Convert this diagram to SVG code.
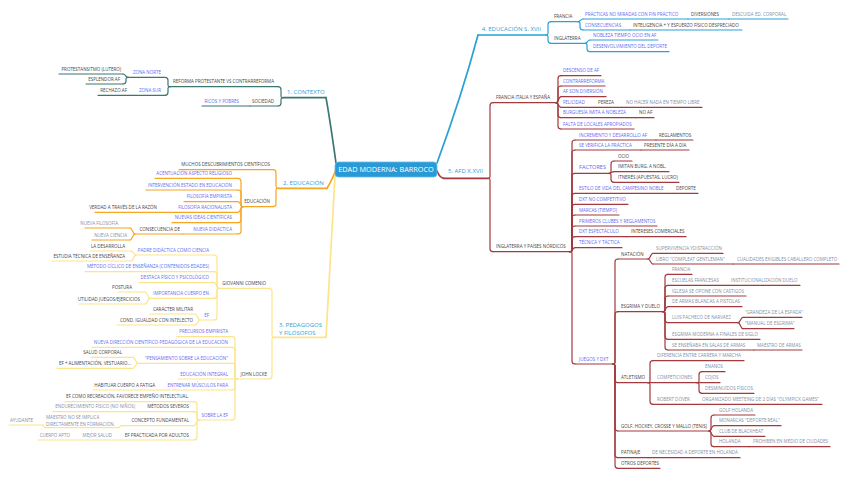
<svg xmlns="http://www.w3.org/2000/svg" width="848" height="478" viewBox="0 0 848 478">
<style>
.l{fill:none;stroke-width:1.2;stroke-linecap:round;stroke-linejoin:round}
.w{stroke-width:1.7}
.t{stroke:#3b7772}.o{stroke:#f6a623}.y{stroke:#fde48a}.b{stroke:#2aa0d7}.r{stroke:#a33a3d}
text{font-family:"Open Sans","Liberation Sans",sans-serif;font-size:4.5px;stroke:none}
.k{fill:#444}.p{fill:#5f69f2}.g{fill:#7f90a6}.e{text-anchor:end}
.ti{font-size:6px;fill:#2a9fd8}
</style>
<rect width="848" height="478" fill="#ffffff"/>
<g id="connectors">
<g class="t">
<path class="l w" d="M336 163Q330 120 326 97.7"/>
<path class="l" d="M283 97.7Q281 97.7 281 96.2V89.7Q281 86.7 278 86.7"/>
<path class="l" d="M283 97.7Q281 97.7 281 99.2V103Q281 106 278 106"/>
<path class="l" d="M170 86.7Q168 86.7 168 85.2V80.3Q168 77.3 165 77.3"/>
<path class="l" d="M170 86.7Q168 86.7 168 88.2V92.3Q168 95.3 165 95.3"/>
<path class="l" d="M128 77.3C125.5 77.3 125.5 74 123 74"/>
<path class="l" d="M128 77.3Q126 77.3 126 78.8V81Q126 84 123 84"/>
</g>
<g class="o">
<path class="l w" d="M336 170Q331 182 327 188.3"/>
<path class="l" d="M278 188.3Q276 188.3 276 186.8V172.7Q276 169.7 273 169.7"/>
<path class="l" d="M278 188.3Q276 188.3 276 189.8V203.7Q276 206.7 273 206.7"/>
<path class="l" d="M243 206.7Q241 206.7 241 205.2V181.3Q241 178.3 238 178.3"/>
<path class="l" d="M243 206.7Q241 206.7 241 205.2V193Q241 190 238 190"/>
<path class="l" d="M243 206.7C240.5 206.7 240.5 201.7 238 201.7"/>
<path class="l" d="M243 206.7C240.5 206.7 240.5 212.3 238 212.3"/>
<path class="l" d="M243 206.7Q241 206.7 241 208.2V219.7Q241 222.7 238 222.7"/>
<path class="l" d="M243 206.7Q241 206.7 241 208.2V231Q241 234 238 234"/>
<path class="l" d="M135 234C132.5 234 132.5 228 130 228"/>
<path class="l" d="M135 234C132.5 234 132.5 240 130 240"/>
</g>
<g class="y">
<path class="l w" d="M335 176Q330 260 326 337.3"/>
<path class="l" d="M274 337.3Q272 337.3 272 335.8V291.3Q272 288.3 269 288.3"/>
<path class="l" d="M274 337.3Q272 337.3 272 338.8V376Q272 379 269 379"/>
<path class="l" d="M219 288.3Q217 288.3 217 286.8V258Q217 255 214 255"/>
<path class="l" d="M219 288.3Q217 288.3 217 286.8V274.7Q217 271.7 214 271.7"/>
<path class="l" d="M219 288.3C216.5 288.3 216.5 282.7 214 282.7"/>
<path class="l" d="M219 288.3Q217 288.3 217 289.8V295.3Q217 298.3 214 298.3"/>
<path class="l" d="M219 288.3Q217 288.3 217 289.8V317Q217 320 214 320"/>
<path class="l" d="M136 255C133.5 255 133.5 251 131 251"/>
<path class="l" d="M136 255C133.5 255 133.5 261 131 261"/>
<path class="l" d="M150 298.3C147.5 298.3 147.5 292 145 292"/>
<path class="l" d="M150 298.3C147.5 298.3 147.5 304 145 304"/>
<path class="l" d="M200 320C197.5 320 197.5 314 195 314"/>
<path class="l" d="M200 320C197.5 320 197.5 325 195 325"/>
<path class="l" d="M237 379Q235 379 235 377.5V339.7Q235 336.7 232 336.7"/>
<path class="l" d="M237 379Q235 379 235 377.5V350.3Q235 347.3 232 347.3"/>
<path class="l" d="M237 379Q235 379 235 377.5V366.3Q235 363.3 232 363.3"/>
<path class="l" d="M237 379Q235 379 235 380.5V387Q235 390 232 390"/>
<path class="l" d="M237 379Q235 379 235 380.5V417Q235 420 232 420"/>
<path class="l" d="M138 363.3C135.5 363.3 135.5 357.3 133 357.3"/>
<path class="l" d="M138 363.3C135.5 363.3 135.5 368.3 133 368.3"/>
<path class="l" d="M199 420Q197 420 197 418.5V404.7Q197 401.7 194 401.7"/>
<path class="l" d="M199 420Q197 420 197 418.5V414.7Q197 411.7 194 411.7"/>
<path class="l" d="M199 420C196.5 420 196.5 425.7 194 425.7"/>
<path class="l" d="M199 420Q197 420 197 421.5V437Q197 440 194 440"/>
<path class="l" d="M122 425.7C120 425.7 120 427.7 118 427.7"/>
<path class="l" d="M45 427.7C44 427.7 44 425 43 425"/>
</g>
<g class="b">
<path class="l w" d="M437 163Q462 95 478 35"/>
<path class="l" d="M546 35Q548 35 548 33.5V24.7Q548 21.7 551 21.7"/>
<path class="l" d="M546 35Q548 35 548 36.5V40.3Q548 43.3 551 43.3"/>
<path class="l" d="M578 21.7C580.5 21.7 580.5 19 583 19"/>
<path class="l" d="M578 21.7Q580 21.7 580 23.2V27Q580 30 583 30"/>
<path class="l" d="M585 43.3C587.5 43.3 587.5 40 590 40"/>
<path class="l" d="M585 43.3Q587 43.3 587 44.8V48.7Q587 51.7 590 51.7"/>
</g>
<g class="r">
<path class="l w" d="M437 171Q440 178.3 444 178.3"/>
<path class="l" d="M488 178.3Q490 178.3 490 176.8V105.7Q490 102.7 493 102.7"/>
<path class="l" d="M488 178.3Q490 178.3 490 179.8V248.7Q490 251.7 493 251.7"/>
<path class="l" d="M556 102.7Q558 102.7 558 101.2V78.7Q558 75.7 561 75.7"/>
<path class="l" d="M556 102.7Q558 102.7 558 101.2V89Q558 86 561 86"/>
<path class="l" d="M556 102.7C558.5 102.7 558.5 96.7 561 96.7"/>
<path class="l" d="M556 102.7C558.5 102.7 558.5 107.3 561 107.3"/>
<path class="l" d="M556 102.7Q558 102.7 558 104.2V114.7Q558 117.7 561 117.7"/>
<path class="l" d="M556 102.7Q558 102.7 558 104.2V126Q558 129 561 129"/>
<path class="l" d="M570 251.7Q572 251.7 572 250.2V143Q572 140 575 140"/>
<path class="l" d="M570 251.7Q572 251.7 572 250.2V153Q572 150 575 150"/>
<path class="l" d="M570 251.7Q572 251.7 572 250.2V176.3Q572 173.3 575 173.3"/>
<path class="l" d="M570 251.7Q572 251.7 572 250.2V196.3Q572 193.3 575 193.3"/>
<path class="l" d="M570 251.7Q572 251.7 572 250.2V207.3Q572 204.3 575 204.3"/>
<path class="l" d="M570 251.7Q572 251.7 572 250.2V218Q572 215 575 215"/>
<path class="l" d="M570 251.7Q572 251.7 572 250.2V229Q572 226 575 226"/>
<path class="l" d="M570 251.7Q572 251.7 572 250.2V239.7Q572 236.7 575 236.7"/>
<path class="l" d="M570 251.7C572.5 251.7 572.5 247.7 575 247.7"/>
<path class="l" d="M570 251.7Q572 251.7 572 253.2V361Q572 364 575 364"/>
<path class="l" d="M609 173.3Q611 173.3 611 171.8V164Q611 161 614 161"/>
<path class="l" d="M609 173.3C611.5 173.3 611.5 171.7 614 171.7"/>
<path class="l" d="M609 173.3Q611 173.3 611 174.8V179.3Q611 182.3 614 182.3"/>
<path class="l" d="M613 364Q615 364 615 362.5V262Q615 259 618 259"/>
<path class="l" d="M613 364Q615 364 615 362.5V314.7Q615 311.7 618 311.7"/>
<path class="l" d="M613 364Q615 364 615 365.5V379.7Q615 382.7 618 382.7"/>
<path class="l" d="M613 364Q615 364 615 365.5V428Q615 431 618 431"/>
<path class="l" d="M613 364Q615 364 615 365.5V454.7Q615 457.7 618 457.7"/>
<path class="l" d="M613 364Q615 364 615 365.5V465.3Q615 468.3 618 468.3"/>
<path class="l" d="M648 259C650.5 259 650.5 253.3 653 253.3"/>
<path class="l" d="M648 259C650.5 259 650.5 264 653 264"/>
<path class="l" d="M663 311.7Q665 311.7 665 310.2V277.3Q665 274.3 668 274.3"/>
<path class="l" d="M663 311.7Q665 311.7 665 310.2V288.3Q665 285.3 668 285.3"/>
<path class="l" d="M663 311.7Q665 311.7 665 310.2V299Q665 296 668 296"/>
<path class="l" d="M663 311.7C665.5 311.7 665.5 306.7 668 306.7"/>
<path class="l" d="M663 311.7Q665 311.7 665 313.2V319.7Q665 322.7 668 322.7"/>
<path class="l" d="M663 311.7Q665 311.7 665 313.2V336.3Q665 339.3 668 339.3"/>
<path class="l" d="M663 311.7Q665 311.7 665 313.2V347Q665 350 668 350"/>
<path class="l" d="M738 322.7C740.5 322.7 740.5 317.3 743 317.3"/>
<path class="l" d="M738 322.7C740.5 322.7 740.5 328.7 743 328.7"/>
<path class="l" d="M648 382.7Q650 382.7 650 381.2V363.7Q650 360.7 653 360.7"/>
<path class="l" d="M648 382.7Q650 382.7 650 384.2V401.3Q650 404.3 653 404.3"/>
<path class="l" d="M697 382.7Q699 382.7 699 381.2V374.7Q699 371.7 702 371.7"/>
<path class="l" d="M697 382.7Q699 382.7 699 384.2V390.3Q699 393.3 702 393.3"/>
<path class="l" d="M709 431Q711 431 711 429.5V418Q711 415 714 415"/>
<path class="l" d="M709 431C711.5 431 711.5 425.7 714 425.7"/>
<path class="l" d="M709 431C711.5 431 711.5 436.3 714 436.3"/>
<path class="l" d="M709 431Q711 431 711 432.5V443.7Q711 446.7 714 446.7"/>
</g>
</g>
<g id="nodes">
<g id="n0"><rect x="335" y="162" width="102" height="15" rx="3.5" fill="#2a9ad6" stroke="#62bce9" stroke-width="0.8"/><text x="386" y="172.4" text-anchor="middle" style="font-size:7.3px;fill:#ffffff">EDAD MODERNA: BARROCO</text></g>
<g class="t">
<g id="n1"><path class="l w" d="M283 97.7H326"/><text class="ti" x="287" y="93.6">1. CONTEXTO</text></g>
<g id="n1-1"><path class="l" d="M170 86.7H278"/><text class="k e" x="274" y="83.4">REFORMA PROTESTANTE VS CONTRARREFORMA</text></g>
<g id="n1-2"><path class="l" d="M250 106H278"/><text class="k e" x="274" y="102.7">SOCIEDAD</text></g>
<g id="n1-2-1"><path class="l" d="M202 106H250"/><text class="p e" x="239" y="102.7">RICOS Y POBRES</text></g>
<g id="n1-1-1"><path class="l" d="M128 77.3H165"/><text class="p e" x="161" y="74">ZONA NORTE</text></g>
<g id="n1-1-2"><path class="l" d="M130 95.3H165"/><text class="p e" x="161" y="92">ZONA SUR</text></g>
<g id="n1-1-2-1"><path class="l" d="M98 95.3H130"/><text class="k e" x="127" y="92">RECHAZO AF</text></g>
<g id="n1-1-1-1"><path class="l" d="M59 74H123"/><text class="k e" x="121" y="70.7">PROTESTANSITMO (LUTERO)</text></g>
<g id="n1-1-1-2"><path class="l" d="M86 84H123"/><text class="k e" x="120" y="80.7">ESPLENDOR AF</text></g>
</g>
<g class="o">
<g id="n2"><path class="l w" d="M278 188.3H327"/><text class="ti" x="283" y="184.9">2. EDUCACIÓN</text></g>
<g id="n2-1"><path class="l" d="M179 169.7H273"/><text class="k e" x="270" y="166.4">MUCHOS DESCUBRIMIENTOS CIENTÍFICOS</text></g>
<g id="n2-2"><path class="l" d="M243 206.7H273"/><text class="k e" x="270" y="203.4">EDUCACIÓN</text></g>
<g id="n2-2-1"><path class="l" d="M155 178.3H238"/><text class="p e" x="232" y="175">ACENTUACIÓN ASPECTO RELIGIOSO</text></g>
<g id="n2-2-2"><path class="l" d="M146 190H238"/><text class="p e" x="232" y="186.7">INTERVENCIÓN ESTADO EN EDUCACIÓN</text></g>
<g id="n2-2-3"><path class="l" d="M184 201.7H238"/><text class="p e" x="232" y="198.4">FILOSOFÍA EMPIRISTA</text></g>
<g id="n2-2-4"><path class="l" d="M176 212.3H238"/><text class="p e" x="232" y="209">FILOSOFÍA RACIONALISTA</text></g>
<g id="n2-2-4-1"><path class="l" d="M95 212.3H176"/><text class="k e" x="157" y="209">VERDAD A TRAVÉS DE LA RAZÓN</text></g>
<g id="n2-2-5"><path class="l" d="M172 222.7H238"/><text class="p e" x="232" y="219.4">NUEVAS IDEAS CIENTÍFICAS</text></g>
<g id="n2-2-6"><path class="l" d="M183 234H238"/><text class="p e" x="232" y="230.7">NUEVA DIDÁCTICA</text></g>
<g id="n2-2-6-1"><path class="l" d="M135 234H183"/><text class="k e" x="180" y="230.7">CONSECUENCIA DE</text></g>
<g id="n2-2-6-1-1"><path class="l" d="M85 228H130"/><text class="g e" x="118" y="224.7">NUEVA FILOSOFÍA</text></g>
<g id="n2-2-6-1-2"><path class="l" d="M92 240H130"/><text class="g e" x="127" y="236.7">NUEVA CIENCIA</text></g>
</g>
<g class="y">
<g id="n3"><path class="l w" d="M274 337.3H326"/><text class="ti" x="279" y="327.4">3. PEDAGOGOS</text><text class="ti" x="279" y="334.7">Y FILÓSOFOS</text></g>
<g id="n3-1"><path class="l" d="M219 288.3H269"/><text class="k e" x="266" y="285">GIOVANNI COMENIO</text></g>
<g id="n3-2"><path class="l" d="M237 379H269"/><text class="k e" x="267" y="375.7">JOHN LOCKE</text></g>
<g id="n3-1-1"><path class="l" d="M136 255H214"/><text class="p e" x="209" y="251.7">PADRE DIDÁCTICA COMO CIENCIA</text></g>
<g id="n3-1-1-1"><path class="l" d="M90 251H131"/><text class="k e" x="125" y="247.7">LA DESARROLLA</text></g>
<g id="n3-1-1-2"><path class="l" d="M52 261H131"/><text class="k e" x="125" y="257.7">ESTUDIA TÉCNICA DE ENSEÑANZA</text></g>
<g id="n3-1-2"><path class="l" d="M85 271.7H214"/><text class="p e" x="209" y="268.4">MÉTODO CÍCLICO DE ENSEÑANZA (CONTENIDOS-EDADES)</text></g>
<g id="n3-1-3"><path class="l" d="M139 282.7H214"/><text class="p e" x="209" y="279.4">DESTACA FÍSICO Y PSICOLÓGICO</text></g>
<g id="n3-1-4"><path class="l" d="M150 298.3H214"/><text class="p e" x="209" y="295">IMPORTANCIA CUERPO EN</text></g>
<g id="n3-1-4-1"><path class="l" d="M118 292H145"/><text class="k e" x="132" y="288.7">POSTURA</text></g>
<g id="n3-1-4-2"><path class="l" d="M79 304H145"/><text class="k e" x="140" y="300.7">UTILIDAD JUEGOS/EJERCICIOS</text></g>
<g id="n3-1-5"><path class="l" d="M200 320H214"/><text class="p e" x="209" y="316.7">EF</text></g>
<g id="n3-1-5-1"><path class="l" d="M150 314H195"/><text class="k e" x="193" y="310.7">CARÁCTER MILITAR</text></g>
<g id="n3-1-5-2"><path class="l" d="M117 325H195"/><text class="k e" x="193" y="321.7">COND. IGUALDAD CON INTELECTO</text></g>
<g id="n3-2-1"><path class="l" d="M177 336.7H232"/><text class="p e" x="228" y="333.4">PRECURSOS EMPIRISTA</text></g>
<g id="n3-2-2"><path class="l" d="M92 347.3H232"/><text class="p e" x="228" y="344">NUEVA DIRECCIÓN CIENTÍFICO-PEDAGÓGICA DE LA EDUCACIÓN</text></g>
<g id="n3-2-3"><path class="l" d="M138 363.3H232"/><text class="p e" x="228" y="360">"PENSAMIENTO SOBRE LA EDUCACIÓN"</text></g>
<g id="n3-2-3-1"><path class="l" d="M91 357.3H133"/><text class="k e" x="122" y="354">SALUD CORPORAL</text></g>
<g id="n3-2-3-2"><path class="l" d="M57 368.3H133"/><text class="k e" x="131" y="365">EF + ALIMENTACIÓN, VESTUARIO...</text></g>
<g id="n3-2-4"><path class="l" d="M178 379H237"/><text class="p e" x="228" y="375.7">EDUCACIÓN INTEGRAL</text></g>
<g id="n3-2-5"><path class="l" d="M157 390H232"/><text class="p e" x="228" y="386.7">ENTRENAR MÚSCULOS PARA</text></g>
<g id="n3-2-5-1"><path class="l" d="M93 390H157"/><text class="k e" x="155" y="386.7">HABITUAR CUERPO A FATIGA</text></g>
<g id="n3-2-6"><path class="l" d="M199 420H232"/><text class="p e" x="228" y="416.7">SOBRE LA EF</text></g>
<g id="n3-2-6-1"><path class="l" d="M65 401.7H194"/><text class="k e" x="189" y="398.4">EF COMO RECREACIÓN, FAVORECE EMPEÑO INTELECTUAL.</text></g>
<g id="n3-2-6-2"><path class="l" d="M137 411.7H194"/><text class="k e" x="189" y="408.4">MÉTODOS SEVEROS</text></g>
<g id="n3-2-6-2-1"><path class="l" d="M53 411.7H137"/><text class="g e" x="135" y="408.4">ENDURECIMIENTO FÍSICO (NO NIÑOS)</text></g>
<g id="n3-2-6-3"><path class="l" d="M122 425.7H194"/><text class="k e" x="189" y="422.4">CONCEPTO FUNDAMENTAL</text></g>
<g id="n3-2-6-3-1"><path class="l" d="M45 427.7H118"/><text class="g" x="46" y="419.3">MAESTRO NO SE IMPLICA</text><text class="g" x="46" y="425.9">DIRECTAMENTE EN FORMACIÓN.</text></g>
<g id="n3-2-6-3-1-1"><path class="l" d="M9 425H43"/><text class="g e" x="33" y="421.7">AYUDANTE</text></g>
<g id="n3-2-6-4"><path class="l" d="M120 440H194"/><text class="k e" x="189" y="436.7">EF PRACTICADA POR ADULTOS</text></g>
<g id="n3-2-6-4-1"><path class="l" d="M80 440H120"/><text class="g e" x="112" y="436.7">MEJOR SALUD</text></g>
<g id="n3-2-6-4-1-1"><path class="l" d="M38 440H80"/><text class="g e" x="70" y="436.7">CUERPO APTO</text></g>
</g>
<g class="b">
<g id="n4"><path class="l w" d="M478 35H546"/><text class="ti" x="481.7" y="31.4">4. EDUCACIÓN S. XVII</text></g>
<g id="n4-1"><path class="l" d="M551 21.7H578"/><text class="k" x="554" y="18.4">FRANCIA</text></g>
<g id="n4-2"><path class="l" d="M551 43.3H585"/><text class="k" x="554" y="40">INGLATERRA</text></g>
<g id="n4-1-1"><path class="l" d="M583 19H688"/><text class="p" x="585" y="15.7">PRÁCTICAS NO MIRADAS CON FIN PRÁCTICO</text></g>
<g id="n4-1-1-1"><path class="l" d="M688 19H729"/><text class="k" x="691" y="15.7">DIVERSIONES</text></g>
<g id="n4-1-1-1-1"><path class="l" d="M729 19H788"/><text class="g" x="732" y="15.7">DESCUIDA ED. CORPORAL</text></g>
<g id="n4-1-2"><path class="l" d="M583 30H630"/><text class="p" x="585" y="26.7">CONSECUENCIAS</text></g>
<g id="n4-1-2-1"><path class="l" d="M630 30H742"/><text class="k" x="633" y="26.7">INTELIGENCIA + Y ESFUERZO FÍSICO DESPRECIADO</text></g>
<g id="n4-2-1"><path class="l" d="M590 40H658"/><text class="p" x="593" y="36.7">NOBLEZA TIEMPO OCIO EN AF</text></g>
<g id="n4-2-2"><path class="l" d="M590 51.7H669"/><text class="p" x="593" y="48.4">DESENVOLVIMIENTO DEL DEPORTE</text></g>
</g>
<g class="r">
<g id="n5"><path class="l w" d="M444 178.3H488"/><text class="ti" x="448" y="173">5. AFD X.XVII</text></g>
<g id="n5-1"><path class="l" d="M493 102.7H556"/><text class="k" x="496" y="99.4">FRANCIA ITALIA Y ESPAÑA</text></g>
<g id="n5-2"><path class="l" d="M493 251.7H570"/><text class="k" x="496" y="248.4">INGLATERRA Y PAÍSES NÓRDICOS</text></g>
<g id="n5-1-1"><path class="l" d="M561 75.7H601"/><text class="p" x="563" y="72.4">DESCENSO DE AF</text></g>
<g id="n5-1-2"><path class="l" d="M561 86H605"/><text class="p" x="563" y="82.7">CONTRARREFORMA</text></g>
<g id="n5-1-3"><path class="l" d="M561 96.7H606"/><text class="p" x="563" y="93.4">AF SON DIVERSIÓN</text></g>
<g id="n5-1-4"><path class="l" d="M561 107.3H594"/><text class="p" x="563" y="104">FELICIDAD</text></g>
<g id="n5-1-4-1"><path class="l" d="M594 107.3H622"/><text class="k" x="598" y="104">PEREZA</text></g>
<g id="n5-1-4-1-1"><path class="l" d="M622 107.3H702"/><text class="g" x="626" y="104">NO HACER NADA EN TIEMPO LIBRE</text></g>
<g id="n5-1-5"><path class="l" d="M561 117.7H636"/><text class="p" x="563" y="114.4">BURGUESÍA IMITA A NOBLEZA</text></g>
<g id="n5-1-5-1"><path class="l" d="M636 117.7H654"/><text class="k" x="639" y="114.4">NO AF</text></g>
<g id="n5-1-6"><path class="l" d="M561 129H634"/><text class="p" x="563" y="125.7">FALTA DE LOCALES APROPIADOS</text></g>
<g id="n5-2-1"><path class="l" d="M575 140H656"/><text class="p" x="579" y="136.7">INCREMENTO Y DESARROLLO AF</text></g>
<g id="n5-2-1-1"><path class="l" d="M656 140H693"/><text class="k" x="659" y="136.7">REGLAMENTOS</text></g>
<g id="n5-2-2"><path class="l" d="M575 150H641"/><text class="p" x="579" y="146.7">SE VERIFICA LA PRÁCTICA</text></g>
<g id="n5-2-2-1"><path class="l" d="M641 150H689"/><text class="k" x="644" y="146.7">PRESENTE DÍA A DÍA</text></g>
<g id="n5-2-3"><path class="l" d="M575 173.3H609"/><text class="p" x="579" y="168.6" style="font-size:5.6px">FACTORES</text></g>
<g id="n5-2-3-1"><path class="l" d="M614 161H632"/><text class="k" x="618" y="157.7">OCIO</text></g>
<g id="n5-2-3-2"><path class="l" d="M614 171.7H669"/><text class="k" x="618" y="168.4">IMITAN BURG. A NOBL.</text></g>
<g id="n5-2-3-3"><path class="l" d="M614 182.3H679"/><text class="k" x="618" y="179">ITNERÉS (APUESTAS, LUCRO)</text></g>
<g id="n5-2-4"><path class="l" d="M575 193.3H673"/><text class="p" x="579" y="190">ESTILO DE VIDA DEL CAMPESINO NOBLE</text></g>
<g id="n5-2-4-1"><path class="l" d="M673 193.3H698"/><text class="k" x="676" y="190">DEPORTE</text></g>
<g id="n5-2-5"><path class="l" d="M575 204.3H628"/><text class="p" x="579" y="201">DXT NO COMPETITIVO</text></g>
<g id="n5-2-6"><path class="l" d="M575 215H619"/><text class="p" x="579" y="211.7">MARCAS (TIEMPO)</text></g>
<g id="n5-2-7"><path class="l" d="M575 226H657"/><text class="p" x="579" y="222.7">PRIMEROS CLUBES Y REGLAMENTOS</text></g>
<g id="n5-2-8"><path class="l" d="M575 236.7H627"/><text class="p" x="579" y="233.4">DXT ESPECTÁCULO</text></g>
<g id="n5-2-8-1"><path class="l" d="M627 236.7H686"/><text class="k" x="631" y="233.4">INTERESES COMERCIALES</text></g>
<g id="n5-2-9"><path class="l" d="M575 247.7H622"/><text class="p" x="579" y="244.4">TÉCNICA Y TÁCTICA</text></g>
<g id="n5-2-10"><path class="l" d="M575 364H613"/><text class="p" x="579" y="360.7">JUEGOS Y DXT</text></g>
<g id="n5-2-10-1"><path class="l" d="M618 259H648"/><text class="k" x="621" y="255.7">NATACIÓN</text></g>
<g id="n5-2-10-1-1"><path class="l" d="M653 253.3H723"/><text class="g" x="656" y="250">SUPERVIVENCIA YDISTRACCIÓN</text></g>
<g id="n5-2-10-1-2"><path class="l" d="M653 264H733"/><text class="g" x="656" y="260.7">LIBRO "COMPLEAT GENTLEMAN"</text></g>
<g id="n5-2-10-1-2-1"><path class="l" d="M733 264H839"/><text class="g" x="737" y="260.7">CUALIDADES EXIGIBLES CABALLERO COMPLETO</text></g>
<g id="n5-2-10-2"><path class="l" d="M618 311.7H663"/><text class="k" x="621" y="308.4">ESGRIMA Y DUELO</text></g>
<g id="n5-2-10-2-1"><path class="l" d="M668 274.3H692"/><text class="g" x="672" y="271">FRANCIA</text></g>
<g id="n5-2-10-2-2"><path class="l" d="M668 285.3H728"/><text class="g" x="672" y="282">ESCUELAS FRANCESAS</text></g>
<g id="n5-2-10-2-2-1"><path class="l" d="M728 285.3H800"/><text class="g" x="731" y="282">INSTITUCIONALIZACIÓN DUELO</text></g>
<g id="n5-2-10-2-3"><path class="l" d="M668 296H746"/><text class="g" x="672" y="292.7">IGLESIA SE OPONE CON CASTIGOS</text></g>
<g id="n5-2-10-2-4"><path class="l" d="M668 306.7H742"/><text class="g" x="672" y="303.4">DE ARMAS BLANCAS A PISTOLAS</text></g>
<g id="n5-2-10-2-5"><path class="l" d="M668 322.7H738"/><text class="g" x="672" y="319.4">LUIS PACHECO DE NARVÁEZ</text></g>
<g id="n5-2-10-2-5-1"><path class="l" d="M743 317.3H802"/><text class="g" x="745" y="314">"GRANDEZA DE LA ESPADA"</text></g>
<g id="n5-2-10-2-5-2"><path class="l" d="M743 328.7H794"/><text class="g" x="745" y="325.4">"MANUAL DE ESGRIMA"</text></g>
<g id="n5-2-10-2-6"><path class="l" d="M668 339.3H760"/><text class="g" x="672" y="336">ESGRIMA MODERNA A FINALES DE SIGLO</text></g>
<g id="n5-2-10-2-7"><path class="l" d="M668 350H754"/><text class="g" x="672" y="346.7">SE ENSEÑABA EN SALAS DE ARMAS</text></g>
<g id="n5-2-10-2-7-1"><path class="l" d="M754 350H802"/><text class="g" x="757" y="346.7">MAESTRO DE ARMAS</text></g>
<g id="n5-2-10-3"><path class="l" d="M618 382.7H648"/><text class="k" x="621" y="379.4">ATLETISMO</text></g>
<g id="n5-2-10-3-1"><path class="l" d="M653 360.7H744"/><text class="g" x="657" y="357.4">DIFERENCIA ENTRE CARRERA Y MARCHA</text></g>
<g id="n5-2-10-3-2"><path class="l" d="M648 382.7H697"/><text class="g" x="657" y="379.4">COMPETICIONES</text></g>
<g id="n5-2-10-3-2-1"><path class="l" d="M702 371.7H725"/><text class="g" x="705" y="368.4">ENANOS</text></g>
<g id="n5-2-10-3-2-2"><path class="l" d="M697 382.7H720"/><text class="g" x="705" y="379.4">COJOS</text></g>
<g id="n5-2-10-3-2-3"><path class="l" d="M702 393.3H754"/><text class="g" x="705" y="390">DESMINUÍDOS FÍSICOS</text></g>
<g id="n5-2-10-3-3"><path class="l" d="M653 404.3H699"/><text class="g" x="657" y="401">ROBERT DOVER</text></g>
<g id="n5-2-10-3-3-1"><path class="l" d="M699 404.3H822"/><text class="g" x="702" y="401">ORGANIZADO MEETEING DE 2 DÍAS "OLYMPICK GAMES"</text></g>
<g id="n5-2-10-4"><path class="l" d="M618 431H709"/><text class="k" x="621" y="427.7">GOLF, HOCKEY, CROSSE Y MALLO (TENIS)</text></g>
<g id="n5-2-10-4-1"><path class="l" d="M714 415H755"/><text class="g" x="719" y="411.7">GOLF HOLANDA</text></g>
<g id="n5-2-10-4-2"><path class="l" d="M714 425.7H781"/><text class="g" x="719" y="422.4">MONARCAS "DEPORTE REAL"</text></g>
<g id="n5-2-10-4-3"><path class="l" d="M714 436.3H765"/><text class="g" x="719" y="433">CLUB DE BLACKHEAT</text></g>
<g id="n5-2-10-4-4"><path class="l" d="M714 446.7H749"/><text class="g" x="719" y="443.4">HOLANDA</text></g>
<g id="n5-2-10-4-4-1"><path class="l" d="M749 446.7H830"/><text class="g" x="753" y="443.4">PROHIBEN EN MEDIO DE CIUDADES</text></g>
<g id="n5-2-10-5"><path class="l" d="M618 457.7H649"/><text class="k" x="621" y="454.4">PATINAJE</text></g>
<g id="n5-2-10-5-1"><path class="l" d="M649 457.7H740"/><text class="g" x="652" y="454.4">DE NECESIDAD A DEPORTE EN HOLANDA</text></g>
<g id="n5-2-10-6"><path class="l" d="M618 468.3H660"/><text class="k" x="621" y="465">OTROS DEPORTES</text></g>
</g>
</g>
</svg>
